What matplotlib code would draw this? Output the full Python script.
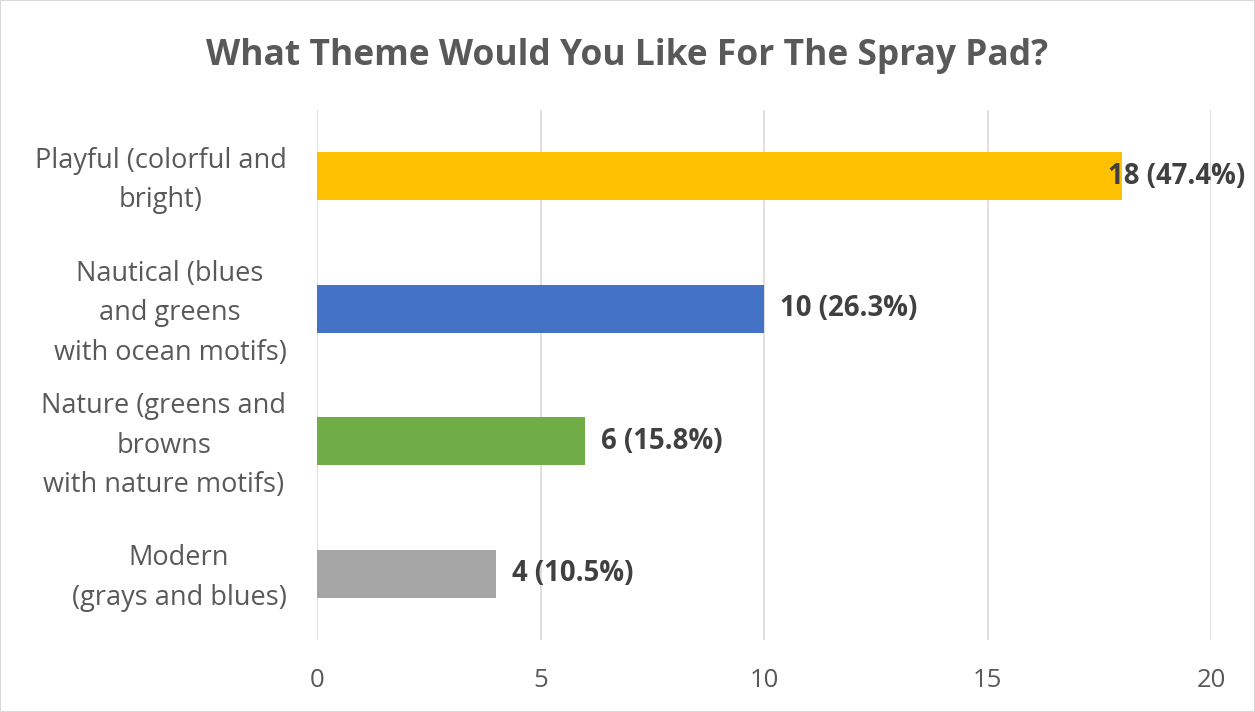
import matplotlib.pyplot as plt
import matplotlib.patches as mpatches
import matplotlib.transforms as mtransforms

plt.rcParams['font.family'] = ['Open Sans', 'DejaVu Sans']

categories = ['Playful (colorful and\nbright)',
              'Nautical (blues\nand greens\nwith ocean motifs)',
              'Nature (greens and\nbrowns\nwith nature motifs)',
              'Modern\n(grays and blues)']
counts = [18, 10, 6, 4]
percents = [47.4, 26.3, 15.8, 10.5]
colors = ['#FFC000', '#4472C4', '#70AD47', '#A5A5A5']
xticks = [0, 5, 10, 15, 20]

fig = plt.figure(figsize=(12.55, 7.12), dpi=100)
ax = fig.add_axes([0.2526, 0.101, 0.7124, 0.7445])

ypos = list(range(len(categories)))[::-1]
ax.barh(ypos, counts, height=0.36, color=colors, zorder=3)

for y, c, p in zip(ypos, counts, percents):
    label = f'{c} ({p}%)'
    if c == max(counts):
        # label pushed back inside the chart area, overlapping the bar end
        ax.text(20.76, y, label, va='center', ha='right', fontsize=19.8,
                fontweight='bold', color='#404040', zorder=4, clip_on=False)
    else:
        ax.text(c + 0.36, y, label, va='center', ha='left', fontsize=19.8,
                fontweight='bold', color='#404040', zorder=4)

ax.set_xlim(0, 20)
ax.set_ylim(-0.5, 3.5)
ax.set_xticks(xticks)
ax.set_yticks(ypos)
ax.set_yticklabels(categories, ha='right', multialignment='center', linespacing=1.55)
ax.tick_params(axis='y', length=0, pad=22, labelsize=19.5, labelcolor='#595959')
ax.tick_params(axis='x', length=0, pad=20, labelsize=18.5, labelcolor='#595959')
# nudge the category labels up a little
shift = mtransforms.ScaledTranslation(0, 5 / 100, fig.dpi_scale_trans)
for lbl in ax.get_yticklabels():
    lbl.set_transform(lbl.get_transform() + shift)
ax.grid(axis='x', color='#D9D9D9', linewidth=1.2, zorder=0)
for s in ax.spines.values():
    s.set_visible(False)

fig.text(0.5, 0.922, 'What Theme Would You Like For The Spray Pad?', ha='center',
         va='center', fontsize=25.5, fontweight='bold', color='#595959')

fig.patches.append(mpatches.Rectangle((0, 0), 1, 1, transform=fig.transFigure,
                                      fill=False, edgecolor='#D9D9D9', linewidth=1.5))

fig.savefig('out.png', dpi=100)
